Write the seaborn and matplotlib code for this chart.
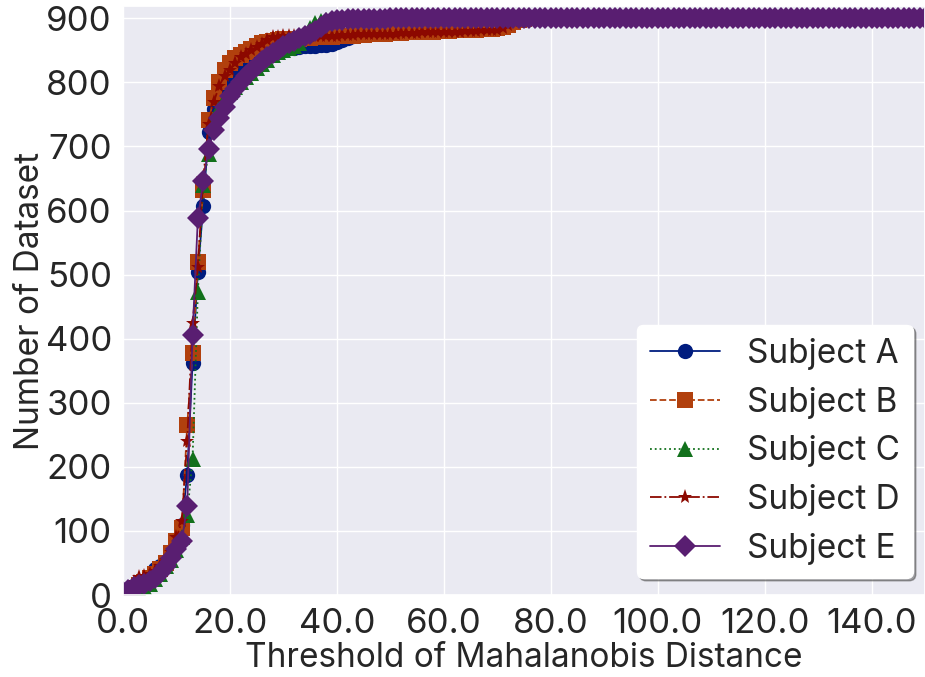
import matplotlib
matplotlib.use("Agg")
import matplotlib.pyplot as plt
import seaborn as sns
import pandas as pd
from matplotlib.ticker import FormatStrFormatter

# thresholds of the Mahalanobis distance
threshold = list(range(0, 151))

subject_a = [3, 6, 10, 14, 19, 28, 40, 45, 52, 62,
             80, 110, 188, 362, 504, 607, 722, 758, 785, 800,
             812, 822, 830, 836, 840, 843, 846, 848, 850, 851,
             852, 853, 854, 855, 856, 857, 857, 858, 859, 860,
             863, 866, 869, 872, 874, 876, 877, 878, 879, 880,
             881, 881, 882, 882, 883, 883, 884, 884, 885, 885,
             886, 886, 887, 887, 888, 889, 890, 891, 893, 895,
             896, 897, 898, 899, 899, 900, 900, 900, 900, 900,
             900, 900, 900, 900, 900, 900, 900, 900, 900, 900,
             900, 900, 900, 900, 900, 900, 900, 900, 900, 900,
             900, 900, 900, 900, 900, 900, 900, 900, 900, 900,
             900, 900, 900, 900, 900, 900, 900, 900, 900, 900,
             900, 900, 900, 900, 900, 900, 900, 900, 900, 900,
             900, 900, 900, 900, 900, 900, 900, 900, 900, 900,
             900, 900, 900, 900, 900, 900, 900, 900, 900, 900,
             900]
subject_b = [3, 6, 10, 15, 20, 26, 33, 40, 50, 65,
             85, 105, 265, 377, 520, 632, 741, 775, 800, 819,
             830, 838, 843, 847, 852, 857, 861, 863, 865, 866,
             867, 867, 868, 868, 869, 869, 870, 870, 871, 871,
             872, 872, 873, 873, 874, 874, 875, 875, 876, 876,
             877, 877, 877, 878, 878, 878, 879, 879, 879, 880,
             880, 880, 881, 881, 881, 882, 882, 883, 883, 884,
             885, 887, 890, 894, 897, 899, 900, 900, 900, 900,
             900, 900, 900, 900, 900, 900, 900, 900, 900, 900,
             900, 900, 900, 900, 900, 900, 900, 900, 900, 900,
             900, 900, 900, 900, 900, 900, 900, 900, 900, 900,
             900, 900, 900, 900, 900, 900, 900, 900, 900, 900,
             900, 900, 900, 900, 900, 900, 900, 900, 900, 900,
             900, 900, 900, 900, 900, 900, 900, 900, 900, 900,
             900, 900, 900, 900, 900, 900, 900, 900, 900, 900,
             900]
subject_c = [1, 3, 5, 8, 12, 17, 25, 33, 45, 55,
             70, 90, 125, 212, 473, 640, 689, 740, 760, 775,
             785, 793, 800, 808, 815, 822, 828, 835, 842, 847,
             850, 853, 856, 862, 875, 885, 892, 895, 897, 898,
             898, 899, 899, 899, 900, 900, 900, 900, 900, 900,
             900, 900, 900, 900, 900, 900, 900, 900, 900, 900,
             900, 900, 900, 900, 900, 900, 900, 900, 900, 900,
             900, 900, 900, 900, 900, 900, 900, 900, 900, 900,
             900, 900, 900, 900, 900, 900, 900, 900, 900, 900,
             900, 900, 900, 900, 900, 900, 900, 900, 900, 900,
             900, 900, 900, 900, 900, 900, 900, 900, 900, 900,
             900, 900, 900, 900, 900, 900, 900, 900, 900, 900,
             900, 900, 900, 900, 900, 900, 900, 900, 900, 900,
             900, 900, 900, 900, 900, 900, 900, 900, 900, 900,
             900, 900, 900, 900, 900, 900, 900, 900, 900, 900,
             900]
subject_d = [2, 8, 20, 28, 30, 33, 38, 45, 55, 68,
             90, 115, 240, 425, 512, 650, 735, 770, 795, 810,
             820, 830, 839, 845, 850, 855, 860, 866, 870, 871,
             872, 872, 872, 872, 873, 873, 873, 873, 873, 873,
             873, 874, 874, 874, 875, 875, 875, 875, 876, 876,
             876, 876, 877, 877, 877, 877, 878, 878, 878, 878,
             878, 879, 879, 879, 880, 880, 880, 881, 881, 882,
             882, 885, 890, 895, 898, 900, 900, 900, 900, 900,
             900, 900, 900, 900, 900, 900, 900, 900, 900, 900,
             900, 900, 900, 900, 900, 900, 900, 900, 900, 900,
             900, 900, 900, 900, 900, 900, 900, 900, 900, 900,
             900, 900, 900, 900, 900, 900, 900, 900, 900, 900,
             900, 900, 900, 900, 900, 900, 900, 900, 900, 900,
             900, 900, 900, 900, 900, 900, 900, 900, 900, 900,
             900, 900, 900, 900, 900, 900, 900, 900, 900, 900,
             900]
subject_e = [5, 8, 12, 15, 18, 22, 27, 34, 45, 58,
             72, 85, 139, 406, 588, 646, 696, 725, 745, 762,
             778, 790, 800, 810, 818, 826, 833, 840, 846, 851,
             856, 861, 865, 869, 873, 876, 880, 886, 892, 895,
             897, 898, 899, 899, 899, 899, 899, 899, 899, 899,
             900, 900, 900, 900, 900, 900, 900, 900, 900, 900,
             900, 900, 900, 900, 900, 900, 900, 900, 900, 900,
             900, 900, 900, 900, 900, 900, 900, 900, 900, 900,
             900, 900, 900, 900, 900, 900, 900, 900, 900, 900,
             900, 900, 900, 900, 900, 900, 900, 900, 900, 900,
             900, 900, 900, 900, 900, 900, 900, 900, 900, 900,
             900, 900, 900, 900, 900, 900, 900, 900, 900, 900,
             900, 900, 900, 900, 900, 900, 900, 900, 900, 900,
             900, 900, 900, 900, 900, 900, 900, 900, 900, 900,
             900, 900, 900, 900, 900, 900, 900, 900, 900, 900,
             900]

subjects = ["Subject A", "Subject B", "Subject C", "Subject D", "Subject E"]
series = [subject_a, subject_b, subject_c, subject_d, subject_e]
markers = ["o", "s", "^", "*", "D"]
dashes = ["-", "--", ":", "-.", "-"]

sns.set_theme(style="darkgrid")
plt.rcParams["font.family"] = ["Inter", "DejaVu Sans"]

frames = [pd.DataFrame({"threshold": threshold, "count": vals, "subject": name})
          for name, vals in zip(subjects, series)]
df = pd.concat(frames, ignore_index=True)

palette = sns.color_palette("dark", 5)

fig = plt.figure(figsize=(9.25, 6.77), dpi=100)
ax = fig.add_axes([0.133, 0.121, 0.867, 0.870])

for i, name in enumerate(subjects):
    sns.lineplot(data=df[df["subject"] == name], x="threshold", y="count",
                 ax=ax, color=palette[i], marker=markers[i], linestyle=dashes[i],
                 markersize=11, linewidth=1.3, markeredgewidth=0, label=name)

ax.set_xlim(0, 150)
ax.set_ylim(0, 919)
ax.set_xticks([0, 20, 40, 60, 80, 100, 120, 140])
ax.set_yticks(range(0, 901, 100))
ax.xaxis.set_major_formatter(FormatStrFormatter("%.1f"))
ax.tick_params(axis="both", labelsize=25, colors="#262626")
ax.tick_params(axis="x", pad=3)
ax.tick_params(axis="y", pad=2)
ax.set_xlabel("Threshold of Mahalanobis Distance", fontsize=24, labelpad=2)
ax.set_ylabel("Number of Dataset", fontsize=24, labelpad=0)

ax.legend(loc="lower right", bbox_to_anchor=(913 / 925, 1 - 578 / 677),
          bbox_transform=fig.transFigure, borderaxespad=0,
          fontsize=24, frameon=True, framealpha=1.0, facecolor="white",
          edgecolor="white", shadow=True, fancybox=True, handlelength=2.1)

fig.savefig("out.png", dpi=100)
